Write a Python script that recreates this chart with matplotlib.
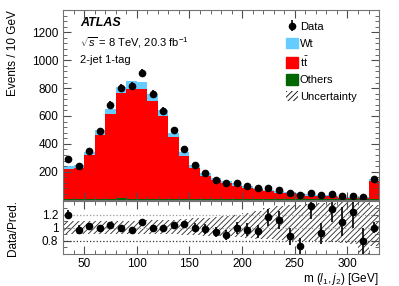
import numpy as np
import matplotlib.pyplot as plt
from matplotlib.patches import Patch
from matplotlib.ticker import MultipleLocator

plt.rcParams['font.family'] = ['Liberation Sans', 'DejaVu Sans']
plt.rcParams['mathtext.fontset'] = 'custom'
plt.rcParams['mathtext.rm'] = 'Liberation Sans'
plt.rcParams['mathtext.it'] = 'Liberation Sans:italic'
plt.rcParams['hatch.linewidth'] = 0.6

# bins of 10 GeV from 30 to 330 GeV (last bin includes overflow)
edges = np.arange(30, 340, 10)
centers = edges[:-1] + 5

data = [289, 241, 351, 494, 679, 798, 815, 910, 758, 638,
        499, 361, 246, 189, 143, 121, 117, 95, 81, 81,
        67, 47, 33, 49, 33, 40, 24, 26, 16, 150]
ttbar = [217, 223, 315, 459, 612, 748, 788, 788, 705, 598,
         446, 308, 222, 168, 137, 117, 98, 81, 71, 59,
         48, 42, 35, 27, 27, 22, 14, 13, 14, 130]
wt = [19, 20, 24, 35, 36, 44, 56, 50, 48, 41,
      29, 31, 20, 21, 14, 16, 17, 14, 12, 9,
      10, 10, 9, 8, 7, 7, 7, 7, 5, 17]
others = [5, 5, 5, 5, 5, 14, 5, 5, 5, 5,
          5, 5, 4, 4, 3, 3, 3, 3, 3, 2,
          2, 2, 2, 2, 2, 2, 1, 1, 1, 3]
# relative uncertainty band (upper / lower edge of ratio)
band_up = [1.10, 1.10, 1.10, 1.10, 1.10, 1.10, 1.10, 1.11, 1.11, 1.12,
           1.12, 1.13, 1.14, 1.15, 1.16, 1.17, 1.19, 1.22, 1.25, 1.30,
           1.33, 1.34, 1.35, 1.36, 1.37, 1.38, 1.40, 1.40, 1.40, 1.35]
band_dn = [0.90, 0.90, 0.90, 0.90, 0.90, 0.90, 0.90, 0.90, 0.90, 0.90,
           0.90, 0.89, 0.89, 0.88, 0.88, 0.87, 0.86, 0.85, 0.83, 0.82,
           0.81, 0.80, 0.80, 0.79, 0.79, 0.78, 0.76, 0.75, 0.60, 0.72]

data = np.array(data, float)
ttbar = np.array(ttbar, float)
wt = np.array(wt, float)
others = np.array(others, float)
total = ttbar + wt + others
derr = np.sqrt(data)

c_wt = '#66ccff'
c_tt = '#ff0000'
c_oth = '#006600'

fig = plt.figure(figsize=(3.99, 2.86), dpi=100)
ax1 = fig.add_axes([0.158, 0.302, 0.792, 0.663])
ax2 = fig.add_axes([0.158, 0.112, 0.792, 0.184])

# stacked histogram
ax1.hist(centers, bins=edges, weights=others, histtype='stepfilled', color=c_oth)
ax1.hist(centers, bins=edges, weights=ttbar, bottom=others, histtype='stepfilled', color=c_tt)
ax1.hist(centers, bins=edges, weights=wt, bottom=others + ttbar, histtype='stepfilled', color=c_wt)
hd = ax1.errorbar(centers, data, yerr=derr, fmt='o', color='k', ms=4.5, elinewidth=1.2, capsize=0)

ax1.set_xlim(30, 330)
ax1.set_ylim(0, 1360)
ax1.set_yticks([200, 400, 600, 800, 1000, 1200])
ax1.yaxis.set_minor_locator(MultipleLocator(40))
ax1.xaxis.set_major_locator(MultipleLocator(50))
ax1.xaxis.set_minor_locator(MultipleLocator(10))
ax1.set_xticklabels([])
ax1.set_ylabel('Events / 10 GeV', fontsize=8.5, loc='top')

ax1.text(0.055, 0.93, 'ATLAS', transform=ax1.transAxes, fontsize=9, fontweight='bold',
         fontstyle='italic', va='center')
ax1.text(0.055, 0.83, r'$\sqrt{s}$ = 8 TeV, 20.3 fb$^{-1}$', transform=ax1.transAxes,
         fontsize=8, va='center')
ax1.text(0.055, 0.735, '2-jet 1-tag', transform=ax1.transAxes, fontsize=8, va='center')

handles = [hd, Patch(color=c_wt), Patch(color=c_tt), Patch(color=c_oth),
           Patch(facecolor='white', edgecolor='k', hatch='//////', lw=0)]
labels = ['Data', 'Wt', r't$\bar{\mathrm{t}}$', 'Others', 'Uncertainty']
ax1.legend(handles, labels, loc='upper left', bbox_to_anchor=(0.69, 0.965), frameon=False,
           fontsize=8, handlelength=1.1, handleheight=1.1, handletextpad=0.2,
           labelspacing=0.5, borderaxespad=0)

# ratio panel
ratio = data / total
rerr = derr / total
ax2.stairs(band_up, edges, baseline=band_dn, fill=True, facecolor='none',
           edgecolor='0.15', hatch='//////', lw=0)
for yv, c in [(0.8, '0.2'), (1.0, '0.6'), (1.2, '0.6')]:
    ax2.axhline(yv, color=c, ls=':', lw=0.9)
ax2.errorbar(centers, ratio, yerr=rerr, fmt='o', color='k', ms=4.5, elinewidth=1.2, capsize=0)
ax2.set_xlim(30, 330)
ax2.set_ylim(0.6, 1.4)
ax2.set_yticks([0.8, 1.0, 1.2])
ax2.set_yticklabels(['0.8', '1', '1.2'])
ax2.yaxis.set_minor_locator(MultipleLocator(0.1))
ax2.xaxis.set_major_locator(MultipleLocator(50))
ax2.xaxis.set_minor_locator(MultipleLocator(10))
ax2.set_ylabel('Data/Pred.', fontsize=8.5)
ax2.set_xlabel(r'm ($l_1, j_2$) [GeV]', fontsize=8.5, loc='right', labelpad=0.5)

for ax in (ax1, ax2):
    ax.tick_params(which='both', direction='in', top=True, right=True, labelsize=8.5,
                   color='0.3')
    ax.tick_params(which='major', length=6)
    ax.tick_params(which='minor', length=3)
    ax.tick_params(axis='x', pad=3)
    for s in ax.spines.values():
        s.set_color('0.45')

ax1.yaxis.set_label_coords(-0.14, 1.0)
ax2.yaxis.set_label_coords(-0.14, 0.5)

fig.savefig('out.png', dpi=100)
